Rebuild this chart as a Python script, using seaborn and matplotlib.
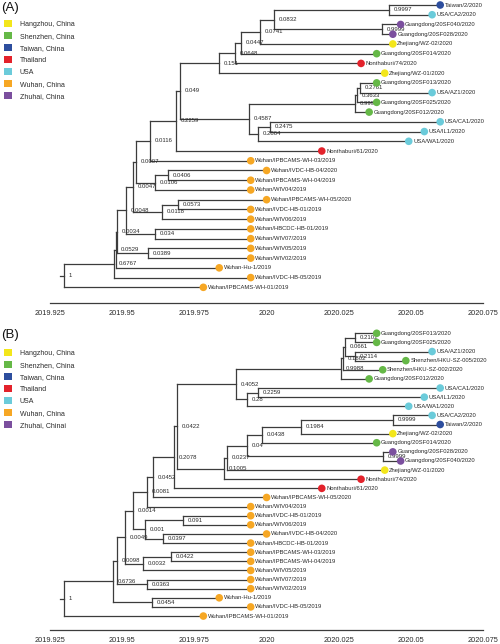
import matplotlib
matplotlib.use("Agg")
import matplotlib.pyplot as plt
from matplotlib.patches import Patch
from matplotlib.ticker import FixedLocator, MultipleLocator
import pandas as pd
import seaborn as sns

# Tips shared by both trees: name, sampling date (decimal year), region
TIP_NAMES = [
    "Taiwan/2/2020", "USA/CA2/2020", "Guangdong/20SF040/2020", "Guangdong/20SF028/2020",
    "Zhejiang/WZ-02/2020", "Guangdong/20SF014/2020", "Nonthaburi/74/2020", "Zhejiang/WZ-01/2020",
    "Guangdong/20SF013/2020", "USA/AZ1/2020", "Guangdong/20SF025/2020", "Guangdong/20SF012/2020",
    "USA/CA1/2020", "USA/IL1/2020", "USA/WA1/2020", "Nonthaburi/61/2020",
    "Shenzhen/HKU-SZ-005/2020", "Shenzhen/HKU-SZ-002/2020",
    "Wuhan/IPBCAMS-WH-03/2019", "Wuhan/IVDC-HB-04/2020", "Wuhan/IPBCAMS-WH-04/2019",
    "Wuhan/WIV04/2019", "Wuhan/IPBCAMS-WH-05/2020", "Wuhan/IVDC-HB-01/2019", "Wuhan/WIV06/2019",
    "Wuhan/HBCDC-HB-01/2019", "Wuhan/WIV07/2019", "Wuhan/WIV05/2019", "Wuhan/WIV02/2019",
    "Wuhan-Hu-1/2019", "Wuhan/IVDC-HB-05/2019", "Wuhan/IPBCAMS-WH-01/2019",
]
TIP_DATES = [
    2020.0601, 2020.0573, 2020.0464, 2020.0437,
    2020.0437, 2020.0381, 2020.0327, 2020.0409,
    2020.0381, 2020.0573, 2020.0381, 2020.0355,
    2020.0601, 2020.0546, 2020.0492, 2020.0191,
    2020.0482, 2020.0402,
    2019.9945, 2020.0000, 2019.9945,
    2019.9945, 2020.0000, 2019.9945, 2019.9945,
    2019.9945, 2019.9945, 2019.9945, 2019.9945,
    2019.9836, 2019.9945, 2019.9781,
]
TIP_REGIONS = [
    "Taiwan, China", "USA", "Zhuhai, China", "Zhuhai, China",
    "Hangzhou, China", "Shenzhen, China", "Thailand", "Hangzhou, China",
    "Shenzhen, China", "USA", "Shenzhen, China", "Shenzhen, China",
    "USA", "USA", "USA", "Thailand",
    "Shenzhen, China", "Shenzhen, China",
] + ["Wuhan, China"] * 14

REGIONS = ["Hangzhou, China", "Shenzhen, China", "Taiwan, China", "Thailand",
           "USA", "Wuhan, China", "Zhuhai, China"]
REGION_COLORS = ["#F3E61B", "#65B847", "#2D4E9E", "#E3222B", "#6BCBDA", "#F6A724", "#7B4F9E"]
LEGEND_A = REGIONS
LEGEND_B = REGIONS[:-1] + ["Zhuhai, Chinai"]

# ---- Tree A ----
A_ORDER = [
    "Taiwan/2/2020", "USA/CA2/2020", "Guangdong/20SF040/2020", "Guangdong/20SF028/2020",
    "Zhejiang/WZ-02/2020", "Guangdong/20SF014/2020", "Nonthaburi/74/2020", "Zhejiang/WZ-01/2020",
    "Guangdong/20SF013/2020", "USA/AZ1/2020", "Guangdong/20SF025/2020", "Guangdong/20SF012/2020",
    "USA/CA1/2020", "USA/IL1/2020", "USA/WA1/2020", "Nonthaburi/61/2020",
    "Wuhan/IPBCAMS-WH-03/2019", "Wuhan/IVDC-HB-04/2020", "Wuhan/IPBCAMS-WH-04/2019",
    "Wuhan/WIV04/2019", "Wuhan/IPBCAMS-WH-05/2020", "Wuhan/IVDC-HB-01/2019", "Wuhan/WIV06/2019",
    "Wuhan/HBCDC-HB-01/2019", "Wuhan/WIV07/2019", "Wuhan/WIV05/2019", "Wuhan/WIV02/2019",
    "Wuhan-Hu-1/2019", "Wuhan/IVDC-HB-05/2019", "Wuhan/IPBCAMS-WH-01/2019",
]
A_NODES = ["a1", "a2", "a3", "a4", "a5", "a6", "a7", "b1", "b2", "b3", "e1", "e2", "c",
           "f", "g", "h", "j1", "j", "i", "l1", "l", "k", "n", "m", "p", "o", "q", "r", "root"]
A_KIDS = [
    ("Taiwan/2/2020", "USA/CA2/2020"), ("Guangdong/20SF040/2020", "Guangdong/20SF028/2020"),
    ("a1", "a2"), ("a3", "Zhejiang/WZ-02/2020"), ("a4", "Guangdong/20SF014/2020"),
    ("a5", "Nonthaburi/74/2020"), ("a6", "Zhejiang/WZ-01/2020"),
    ("Guangdong/20SF013/2020", "USA/AZ1/2020"), ("b1", "Guangdong/20SF025/2020"),
    ("b2", "Guangdong/20SF012/2020"), ("USA/CA1/2020", "USA/IL1/2020"), ("e1", "USA/WA1/2020"),
    ("b3", "e2"), ("a7", "c"), ("f", "Nonthaburi/61/2020"), ("g", "Wuhan/IPBCAMS-WH-03/2019"),
    ("Wuhan/IVDC-HB-04/2020", "Wuhan/IPBCAMS-WH-04/2019"), ("j1", "Wuhan/WIV04/2019"),
    ("h", "j"), ("Wuhan/IPBCAMS-WH-05/2020", "Wuhan/IVDC-HB-01/2019"), ("l1", "Wuhan/WIV06/2019"),
    ("i", "l"), ("Wuhan/HBCDC-HB-01/2019", "Wuhan/WIV07/2019"), ("k", "n"),
    ("Wuhan/WIV05/2019", "Wuhan/WIV02/2019"), ("m", "p"), ("o", "Wuhan-Hu-1/2019"),
    ("q", "Wuhan/IVDC-HB-05/2019"), ("r", "Wuhan/IPBCAMS-WH-01/2019"),
]
A_NODE_DATES = [2020.0425, 2020.0400, 2020.0026, 2019.9978, 2019.9911, 2019.9891, 2019.9836,
                2020.0322, 2020.0314, 2020.0306, 2020.0013, 2019.9971, 2019.9940,
                2019.9701, 2019.9686, 2019.9595, 2019.9660, 2019.9615, 2019.9548, 2019.9694,
                2019.9637, 2019.9539, 2019.9615, 2019.9513, 2019.9588, 2019.9483, 2019.9480,
                2019.9473, 2019.9297]
A_SUPPORT = ["0.9997", "0.9999", "0.0832", "0.0741", "0.0447", "0.0648", "0.151",
             "0.2761", "0.3633", "0.9996", "0.2475", "0.2864", "0.4587",
             "0.049", "0.2259", "0.0116", "0.0406", "0.0106", "0.0007", "0.0573",
             "0.0118", "0.0047", "0.034", "0.0048", "0.0389", "0.0034", "0.0529",
             "0.6767", "1"]

# ---- Tree B ----
B_ORDER = [
    "Guangdong/20SF013/2020", "Guangdong/20SF025/2020", "USA/AZ1/2020", "Shenzhen/HKU-SZ-005/2020",
    "Shenzhen/HKU-SZ-002/2020", "Guangdong/20SF012/2020", "USA/CA1/2020", "USA/IL1/2020",
    "USA/WA1/2020", "USA/CA2/2020", "Taiwan/2/2020", "Zhejiang/WZ-02/2020",
    "Guangdong/20SF014/2020", "Guangdong/20SF028/2020", "Guangdong/20SF040/2020",
    "Zhejiang/WZ-01/2020", "Nonthaburi/74/2020", "Nonthaburi/61/2020",
    "Wuhan/IPBCAMS-WH-05/2020", "Wuhan/WIV04/2019", "Wuhan/IVDC-HB-01/2019", "Wuhan/WIV06/2019",
    "Wuhan/IVDC-HB-04/2020", "Wuhan/HBCDC-HB-01/2019", "Wuhan/IPBCAMS-WH-03/2019",
    "Wuhan/IPBCAMS-WH-04/2019", "Wuhan/WIV05/2019", "Wuhan/WIV07/2019", "Wuhan/WIV02/2019",
    "Wuhan-Hu-1/2019", "Wuhan/IVDC-HB-05/2019", "Wuhan/IPBCAMS-WH-01/2019",
]
B_NODES = ["B1", "B3", "B2", "B4", "B5", "B7", "B8", "B6", "B9", "B10", "B11", "B13", "B12",
           "B14", "B15", "B16", "B17", "B18", "B19", "B21", "B22", "B23", "B20", "B25", "B26",
           "B24", "Z", "B27", "W", "B28", "root"]
B_KIDS = [
    ("Guangdong/20SF013/2020", "Guangdong/20SF025/2020"), ("USA/AZ1/2020", "Shenzhen/HKU-SZ-005/2020"),
    ("B1", "B3"), ("B2", "Shenzhen/HKU-SZ-002/2020"), ("B4", "Guangdong/20SF012/2020"),
    ("USA/CA1/2020", "USA/IL1/2020"), ("B7", "USA/WA1/2020"), ("B5", "B8"),
    ("USA/CA2/2020", "Taiwan/2/2020"), ("B9", "Zhejiang/WZ-02/2020"), ("B10", "Guangdong/20SF014/2020"),
    ("Guangdong/20SF028/2020", "Guangdong/20SF040/2020"), ("B11", "B13"),
    ("B12", "Zhejiang/WZ-01/2020"), ("B14", "Nonthaburi/74/2020"), ("B6", "B15"),
    ("B16", "Nonthaburi/61/2020"), ("B17", "Wuhan/IPBCAMS-WH-05/2020"), ("B18", "Wuhan/WIV04/2019"),
    ("Wuhan/IVDC-HB-01/2019", "Wuhan/WIV06/2019"), ("Wuhan/IVDC-HB-04/2020", "Wuhan/HBCDC-HB-01/2019"),
    ("B21", "B22"), ("B19", "B23"), ("Wuhan/IPBCAMS-WH-03/2019", "Wuhan/IPBCAMS-WH-04/2019"),
    ("B25", "Wuhan/WIV05/2019"), ("B20", "B26"), ("Wuhan/WIV07/2019", "Wuhan/WIV02/2019"),
    ("B24", "Z"), ("Wuhan-Hu-1/2019", "Wuhan/IVDC-HB-05/2019"), ("B27", "W"),
    ("B28", "Wuhan/IPBCAMS-WH-01/2019"),
]
B_NODE_DATES = [2020.0307, 2020.0307, 2020.0272, 2020.0264, 2020.0257, 2019.9971, 2019.9931,
                2019.9895, 2020.0437, 2020.0119, 2019.9983, 2020.0404, 2019.9931,
                2019.9864, 2019.9853, 2019.9689, 2019.9680, 2019.9608, 2019.9585, 2019.9711,
                2019.9640, 2019.9579, 2019.9536, 2019.9669, 2019.9573, 2019.9510, 2019.9585,
                2019.9481, 2019.9602, 2019.9469, 2019.9298]
B_SUPPORT = ["0.2102", "0.2114", "0.0661", "0.1802", "0.9988", "0.2259", "0.28", "0.4052",
             "0.9999", "0.1984", "0.0438", "0.9999", "0.04", "0.0237", "0.1005", "0.0422",
             "0.2078", "0.0452", "0.0081", "0.091", "0.0397", "0.001", "0.0014", "0.0422",
             "0.0032", "0.0049", "0.0363", "0.0098", "0.0454", "0.6736", "1"]

TICKS = [2019.925, 2019.95, 2019.975, 2020.0, 2020.025, 2020.05, 2020.075]
TICK_LABELS = ["2019.925", "2019.95", "2019.975", "2020", "2020.025", "2020.05", "2020.075"]

LINE_COLOR = "#3c3c3c"
TEXT_COLOR = "#2a2a2a"


def draw_tree(ax, order, nodes, kids, node_dates, support):
    date = dict(zip(TIP_NAMES, TIP_DATES))
    date.update(zip(nodes, node_dates))
    region = dict(zip(TIP_NAMES, TIP_REGIONS))
    ypos = {name: i for i, name in enumerate(order)}

    line_kw = dict(color=LINE_COLOR, lw=0.9, solid_capstyle="projecting", zorder=1)
    for node, (c1, c2) in zip(nodes, kids):
        ypos[node] = (ypos[c1] + ypos[c2]) / 2
        ax.plot([date[node], date[node]], [ypos[c1], ypos[c2]], **line_kw)
        for c in (c1, c2):
            ax.plot([date[node], date[c]], [ypos[c], ypos[c]], **line_kw)
        ax.annotate(support[nodes.index(node)], (date[node], ypos[node]),
                    xytext=(3.4, 0), textcoords="offset points", va="center", ha="left",
                    fontsize=4.3, color=TEXT_COLOR, zorder=2)
    # short stem on the root
    root = nodes[-1]
    ax.plot([date[root] - 0.0012, date[root]], [ypos[root], ypos[root]], **line_kw)

    tips = pd.DataFrame({"name": order,
                         "date": [date[n] for n in order],
                         "y": [ypos[n] for n in order],
                         "region": [region[n] for n in order]})
    sns.scatterplot(data=tips, x="date", y="y", hue="region",
                    palette=dict(zip(REGIONS, REGION_COLORS)), s=30,
                    edgecolor="none", legend=False, ax=ax, zorder=3)
    for _, row in tips.iterrows():
        ax.annotate(row["name"], (row["date"], row["y"]), xytext=(3.2, 0),
                    textcoords="offset points", va="center", ha="left",
                    fontsize=4.2, color=TEXT_COLOR, zorder=4)


def style_axis(ax, ylim):
    ax.set_xlim(2019.9077, 2020.0808)
    ax.set_ylim(*ylim)
    for side in ("top", "right", "left"):
        ax.spines[side].set_visible(False)
    ax.spines["bottom"].set_bounds(TICKS[0], TICKS[-1])
    ax.spines["bottom"].set_color(LINE_COLOR)
    ax.spines["bottom"].set_linewidth(0.9)
    ax.xaxis.set_major_locator(FixedLocator(TICKS))
    ax.set_xticklabels(TICK_LABELS)
    ax.xaxis.set_minor_locator(MultipleLocator(0.005))
    ax.tick_params(axis="x", which="major", length=3.2, width=0.8, color=LINE_COLOR,
                   labelsize=5.3, pad=1.8, labelcolor=TEXT_COLOR)
    ax.tick_params(axis="x", which="minor", length=1.8, width=0.6, color=LINE_COLOR)
    ax.set_yticks([])
    ax.set_xlabel("")
    ax.set_ylabel("")
    ax.patch.set_alpha(0)


def add_legend(fig, labels, top_px):
    handles = [Patch(facecolor=c, edgecolor="none") for c in REGION_COLORS]
    fig.legend(handles, labels, loc="upper left",
               bbox_to_anchor=(4 / 500, 1 - top_px / 644), bbox_transform=fig.transFigure,
               frameon=False, fontsize=5, handlelength=1.1, handleheight=1.1,
               handletextpad=1.2, labelspacing=0.62, borderpad=0, borderaxespad=0,
               labelcolor=TEXT_COLOR)


sns.set_theme(style="white")
plt.rcParams["font.family"] = ["Liberation Sans", "DejaVu Sans"]

fig = plt.figure(figsize=(5, 6.44), dpi=100)
ax_a = fig.add_axes([0, 1 - 302.7 / 644, 1, 302.7 / 644])
ax_b = fig.add_axes([0, 1 - 630 / 644, 1, (630 - 320) / 644])

draw_tree(ax_a, A_ORDER, A_NODES, A_KIDS, A_NODE_DATES, A_SUPPORT)
style_axis(ax_a, (30.58, -0.514))
draw_tree(ax_b, B_ORDER, B_NODES, B_KIDS, B_NODE_DATES, B_SUPPORT)
style_axis(ax_b, (32.53, -1.458))

fig.text(0.002, 1 - 7.5 / 644, "(A)", fontsize=9.5, va="center", ha="left", color="#111")
fig.text(0.002, 1 - 335 / 644, "(B)", fontsize=9.5, va="center", ha="left", color="#111")
add_legend(fig, LEGEND_A, 20.3)
add_legend(fig, LEGEND_B, 349)

fig.savefig("out.png", dpi=100)
